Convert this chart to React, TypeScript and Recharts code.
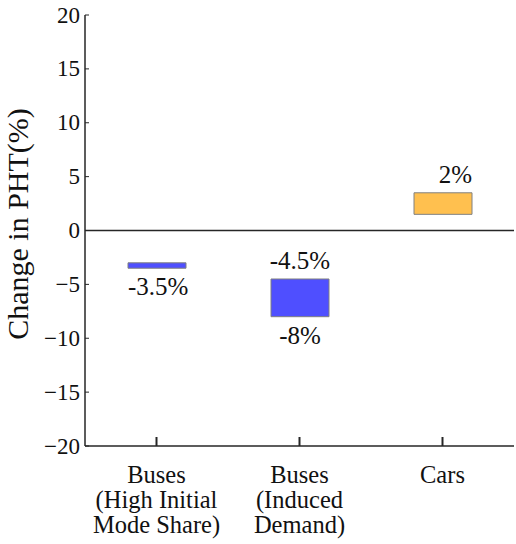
import { BarChart, Bar, XAxis, YAxis, Cell, LabelList, ReferenceLine } from "recharts";

const categories = ["Buses\n(High Initial\nMode Share)", "Buses\n(Induced\nDemand)", "Cars"];
const lowValues = [-3.5, -8, 1.5];
const highValues = [-3, -4.5, 3.5];
const upperLabels = ["", "-4.5%", "2%"];
const lowerLabels = ["-3.5%", "-8%", ""];
const barColors = ["#4f4fff", "#4f4fff", "#ffc04f"];
const yTicks = [-20, -15, -10, -5, 0, 5, 10, 15, 20];

const FONT = "'Liberation Serif', 'Times New Roman', serif";
const AXIS = "#262626";

const data = categories.map((name, i) => ({
  name,
  range: [lowValues[i], highValues[i]],
  upper: upperLabels[i],
  lower: lowerLabels[i],
}));

const upperAnchor = ["middle", "middle", "end"];
const lowerAnchor = ["start", "middle", "middle"];

function YTick(props: any) {
  const { x, y, payload } = props;
  const v = payload.value as number;
  const txt = v < 0 ? `\u2212${Math.abs(v)}` : `${v}`;
  return (
    <g>
      <line x1={x} x2={x + 4} y1={y} y2={y} stroke={AXIS} strokeWidth={1} />
      <text x={x - 5} y={y + 7.5} textAnchor="end" style={{ fontFamily: FONT, fontSize: 23 }} fill="#111">
        {txt}
      </text>
    </g>
  );
}

function XTick(props: any) {
  const { x, y, payload } = props;
  const lines = String(payload.value).split("\n");
  return (
    <g>
      <line x1={x} x2={x} y1={y - 9} y2={y} stroke={AXIS} strokeWidth={2} />
      <text textAnchor="middle" style={{ fontFamily: FONT, fontSize: 24.5 }} fill="#111">
        {lines.map((l, i) => (
          <tspan key={i} x={x} y={y + 37 + i * 25}>
            {l}
          </tspan>
        ))}
      </text>
    </g>
  );
}

function makeLabel(which: "upper" | "lower") {
  return (props: any) => {
    const { value, index } = props;
    if (!value) return null;
    const vb = props.viewBox ?? props;
    const x = Number(vb.x ?? props.x);
    const w = Number(vb.width ?? props.width);
    const y0 = Number(vb.y ?? props.y);
    const h = Number(vb.height ?? props.height);
    const top = Math.min(y0, y0 + h);
    const bottom = Math.max(y0, y0 + h);
    const anchor = (which === "upper" ? upperAnchor : lowerAnchor)[index] ?? "middle";
    const tx = anchor === "start" ? x : anchor === "end" ? x + w : x + w / 2;
    const ty = which === "upper" ? top - 10 : bottom + 27;
    return (
      <text x={tx} y={ty} textAnchor={anchor} style={{ fontFamily: FONT, fontSize: 25 }} fill="#111">
        {value}
      </text>
    );
  };
}

export default function App() {
  return (
    <div style={{ position: "absolute", left: 0, top: 0, background: "#fff", fontFamily: FONT }}>
      <BarChart width={516} height={544} data={data} margin={{ top: 15, right: 2, left: 0, bottom: 0 }}>
        <XAxis
          dataKey="name"
          interval={0}
          height={98}
          tickSize={0}
          tickMargin={0}
          tickLine={false}
          axisLine={{ stroke: AXIS, strokeWidth: 1.5 }}
          tick={<XTick />}
        />
        <YAxis
          type="number"
          domain={[-20, 20]}
          ticks={yTicks}
          width={85}
          tickSize={0}
          tickMargin={0}
          tickLine={false}
          axisLine={{ stroke: AXIS, strokeWidth: 1.5 }}
          tick={<YTick />}
          label={{
            content: () => (
              <text
                x={28}
                y={224}
                transform="rotate(-90, 28, 224)"
                textAnchor="middle"
                style={{ fontFamily: FONT, fontSize: 30 }}
                fill="#111"
              >
                Change in PHT(%)
              </text>
            ),
          }}
        />
        <ReferenceLine y={0} stroke={AXIS} strokeWidth={1.5} />
        <Bar dataKey="range" barSize={58} stroke="#808080" strokeWidth={1} isAnimationActive={false}>
          {data.map((_, i) => (
            <Cell key={i} fill={barColors[i]} />
          ))}
          <LabelList dataKey="upper" content={makeLabel("upper")} />
          <LabelList dataKey="lower" content={makeLabel("lower")} />
        </Bar>
      </BarChart>
    </div>
  );
}
